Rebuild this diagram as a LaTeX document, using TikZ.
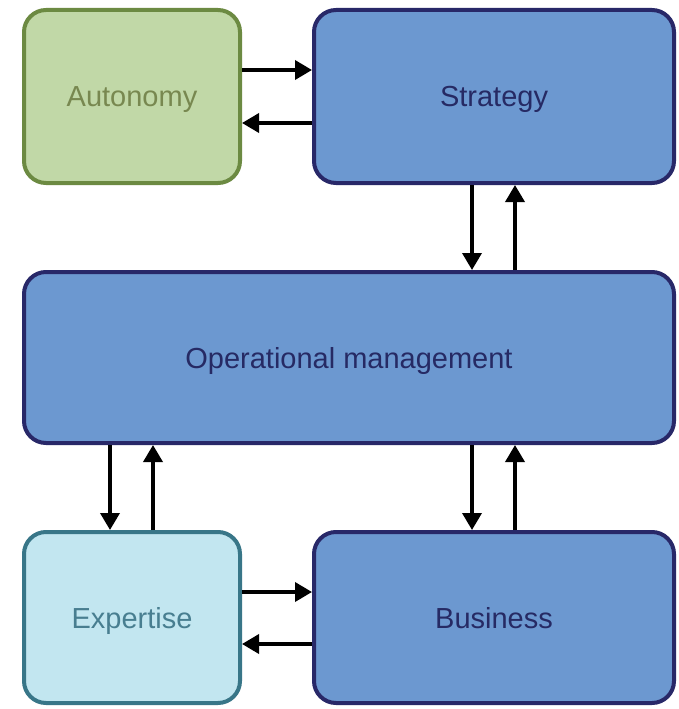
\documentclass[tikz,border=0pt]{standalone}
\usepackage{fontspec}
\setmainfont{Liberation Sans}
\usetikzlibrary{calc,arrows.meta}
\definecolor{autfill}{RGB}{193,216,167}
\definecolor{autdraw}{RGB}{108,138,66}
\definecolor{auttext}{RGB}{120,136,80}
\definecolor{bluefill}{RGB}{108,152,208}
\definecolor{bluedraw}{RGB}{40,40,104}
\definecolor{bluetext}{RGB}{38,42,100}
\definecolor{expfill}{RGB}{194,230,240}
\definecolor{expdraw}{RGB}{56,118,136}
\definecolor{exptext}{RGB}{72,126,144}
\def\boxnode{\node[draw,line width=4pt,rounded corners=22pt,inner sep=0pt,text depth=0pt,font=\fontsize{29}{32}\selectfont]}
\def\drawlink{\draw[line width=3.6pt,-{Triangle[length=17pt,width=19pt]}]}

\begin{document}
\begin{tikzpicture}[x=1pt,y=-1pt]
\useasboundingbox (0,0) rectangle (679,709);
\coordinate (topl) at (132,96.5); % centre of the top left box
\coordinate (botl) at ($ (topl) + (0,521) $); % centre of the bottom left box

% ---------- the five boxes
\boxnode[fill=autfill,draw=autdraw,text=auttext,minimum width=216pt,minimum height=173pt] (aut) at (topl) {Autonomy};
\boxnode[fill=bluefill,draw=bluedraw,text=bluetext,minimum width=360pt,minimum height=173pt] (str) at ($ (topl) + (362,0) $) {Strategy};
\boxnode[fill=bluefill,draw=bluedraw,text=bluetext,minimum width=650pt,minimum height=171pt] (op) at ($ (topl) + (217,261) $) {Operational management};
\boxnode[fill=expfill,draw=expdraw,text=exptext,minimum width=216pt,minimum height=171pt] (exp) at (botl) {Expertise};
\boxnode[fill=bluefill,draw=bluedraw,text=bluetext,minimum width=360pt,minimum height=171pt] (bus) at ($ (botl) + (362,0) $) {Business};

% ---------- rows and columns of the links
\coordinate (rowa) at ($ (topl) + (0,-26.5) $);
\coordinate (rowb) at ($ (topl) + (0,26.5) $);
\coordinate (rowc) at ($ (botl) + (0,-25.5) $);
\coordinate (rowd) at ($ (botl) + (0,26.5) $);
\coordinate (cola) at ($ (topl) + (-22,0) $);
\coordinate (colb) at ($ (topl) + (21,0) $);
\coordinate (colc) at ($ (str) + (-22,0) $);
\coordinate (cold) at ($ (str) + (21,0) $);

% top pair
\drawlink (aut.east |- rowa) to (str.west |- rowa);
\drawlink (str.west |- rowb) to (aut.east |- rowb);
\drawlink (str.south -| colc) to (op.north -| colc);
\drawlink (op.north -| cold) to (str.south -| cold);

% bottom pairs
\drawlink (op.south -| cola) to (exp.north -| cola);
\drawlink (exp.north -| colb) to (op.south -| colb);
\drawlink (op.south -| colc) to (bus.north -| colc);
\drawlink (bus.north -| cold) to (op.south -| cold);
\drawlink (exp.east |- rowc) to (bus.west |- rowc);
\drawlink (bus.west |- rowd) to (exp.east |- rowd);
\end{tikzpicture}
\end{document}
